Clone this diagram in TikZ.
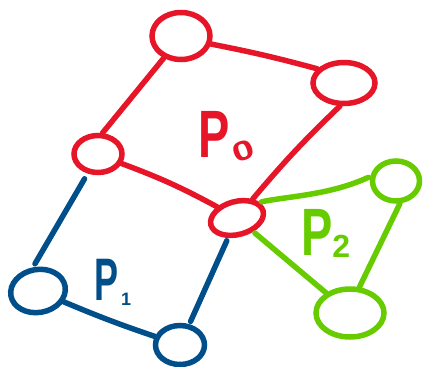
\documentclass[tikz,border=0pt]{standalone}
\usepackage{fontspec}
\usepackage{graphicx}
\setmainfont{Liberation Sans}
\usetikzlibrary{shapes.geometric}
\definecolor{pred}{RGB}{230,22,40}
\definecolor{pblue}{RGB}{0,78,138}
\definecolor{pgreen}{RGB}{102,204,0}
\begin{document}
\begin{tikzpicture}[x=1pt,y=-1pt,
  vtx/.style={ellipse,draw,line width=5.5pt,inner sep=0pt},
  edge/.style={line width=5.5pt,line cap=round},
  lbl/.style={anchor=base west,inner sep=0pt,font=\bfseries}]
\useasboundingbox (0,0) rectangle (424,367);
% red vertices
\node[vtx,draw=pred,minimum width=58pt,minimum height=47pt] (rt) at (181,36) {};
\node[vtx,draw=pred,minimum width=62pt,minimum height=41pt] (rr) at (344,83) {};
\node[vtx,draw=pred,minimum width=48pt,minimum height=37pt] (rl) at (98,154) {};
\node[vtx,draw=pred,minimum width=54pt,minimum height=33pt,rotate=15] (rc) at (237,218) {};
% green vertices
\node[vtx,draw=pgreen,minimum width=47pt,minimum height=40pt] (gt) at (396,181) {};
\node[vtx,draw=pgreen,minimum width=68pt,minimum height=48pt] (gb) at (350,313) {};
% blue vertices
\node[vtx,draw=pblue,minimum width=55pt,minimum height=43pt,rotate=10] (bl) at (38,291) {};
\node[vtx,draw=pblue,minimum width=49pt,minimum height=39pt] (bb) at (180,345) {};
% red edges
\draw[edge,pred] (rt.-15) to[bend left=2] (rr.152);
\draw[edge,pred] (rt.-128) -- (rl.78);
\draw[edge,pred] (rr.-100) to[bend right=3] (rc);
\draw[edge,pred] (rl.-22) to[bend left=4] (rc);
% blue edges
\draw[edge,pblue,shorten <=6pt,shorten >=4pt] (rl.-118) -- (bl.92);
\draw[edge,pblue,shorten <=3pt,shorten >=3pt] (rc) -- (bb);
\draw[edge,pblue] (bl) to[bend right=2] (bb);
% green edges
\draw[edge,pgreen,shorten <=2pt,shorten >=2pt] (rc.20) .. controls (290,196) and (330,195) .. (gt.170);
\draw[edge,pgreen,shorten <=2pt] (rc) -- (gb);
\draw[edge,pgreen] (gt.-80) -- (gb.70);
% labels
\node[lbl,text=pred] (l0) at (198,157) {\scalebox{0.7}[1]{\fontsize{67}{67}\selectfont P}\raisebox{-6pt}{\rotatebox{20}{\scalebox{1.5}[1.05]{\fontsize{26}{26}\selectfont 0}}}};
\node[lbl,text=pgreen] (l2) at (301,255) {\scalebox{0.7}[1]{\fontsize{67}{67}\selectfont P}\raisebox{-2pt}{\fontsize{32}{32}\selectfont 2}};
\node[lbl,text=pblue] (l1) at (94,300) {\scalebox{0.6}[1]{\fontsize{60}{60}\selectfont P}\hspace{3pt}\raisebox{-5pt}{\fontsize{18}{18}\selectfont 1}};
\end{tikzpicture}
\end{document}
